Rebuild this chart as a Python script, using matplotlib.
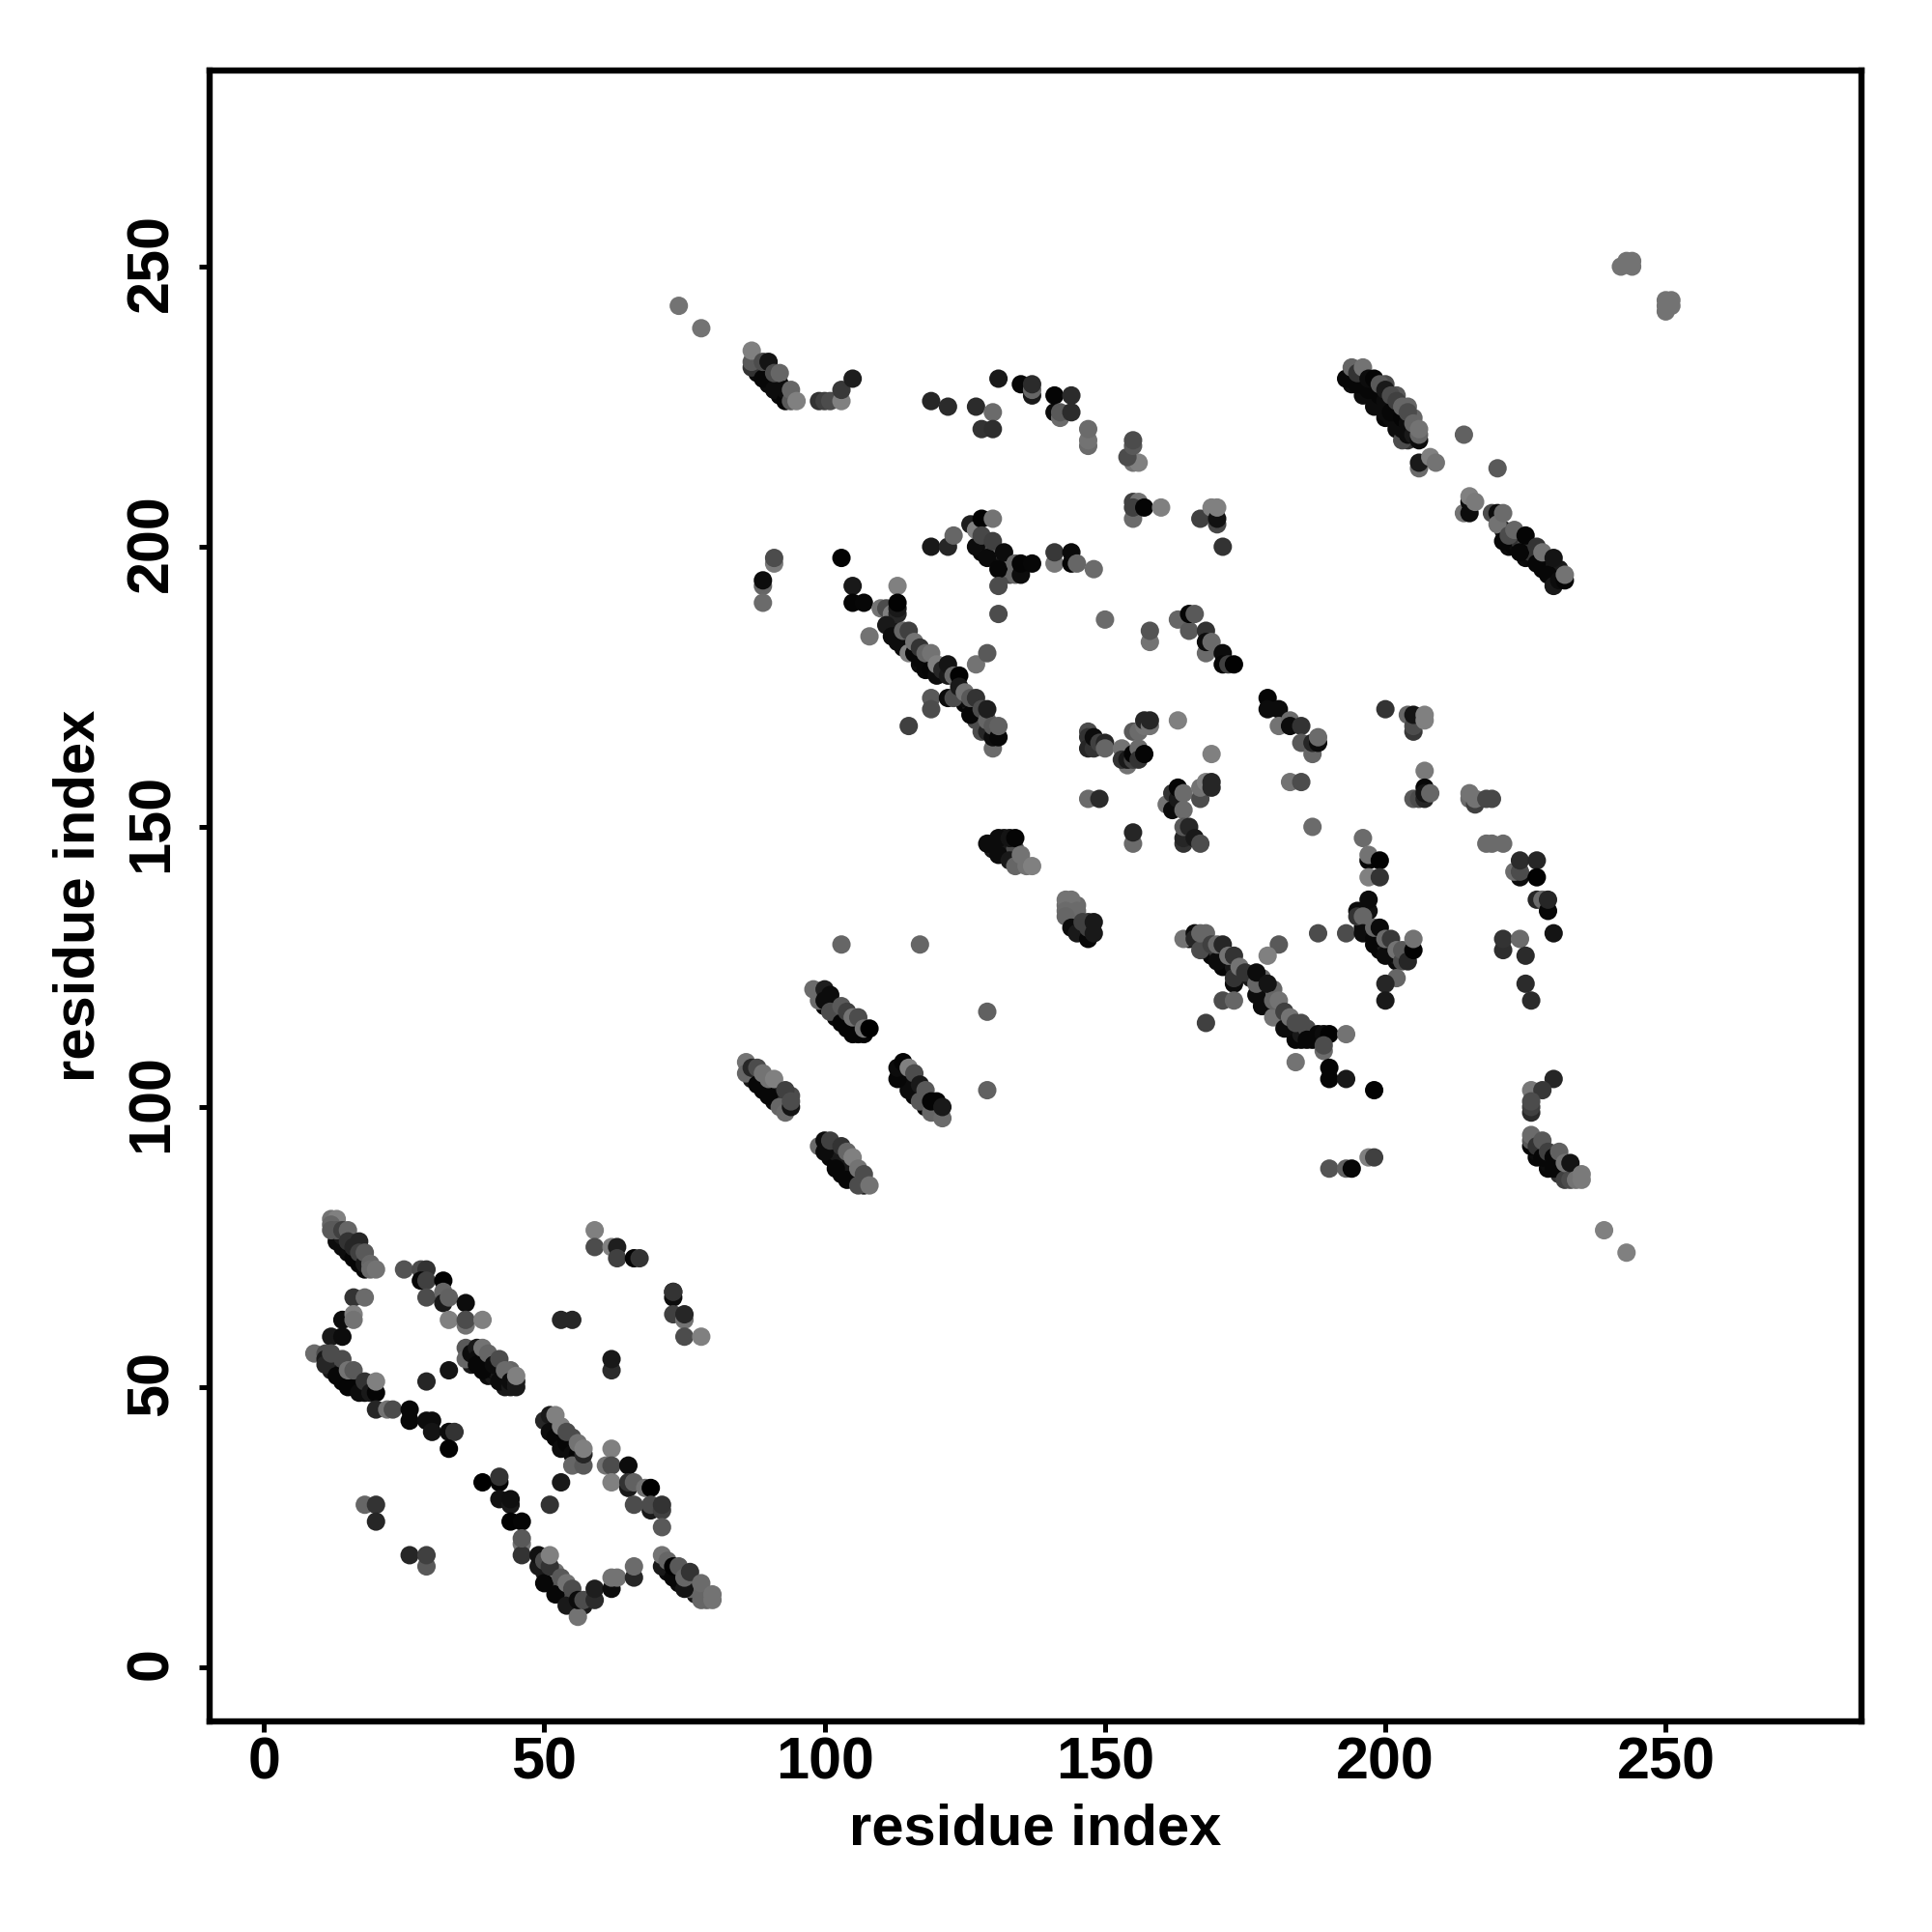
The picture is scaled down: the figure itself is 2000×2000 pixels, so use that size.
import matplotlib
matplotlib.use("Agg")
import matplotlib.pyplot as plt
from matplotlib.transforms import ScaledTranslation

# (residue i, residue j, score), grouped by region of the map
# contacts hidden under the thick bands, these get drawn first
band_lower = [(13,77,.1),(13,76,.05),(15,75,.05),(15,74,.05),(16,74,.05),(17,72,.03),(17,73,.1),(18,73,.2),
    (12,55,.1),(12,53,.1),(13,53,.05),(13,55,.3),(14,51,.03),(14,53,.1),(15,51,.05),(16,50,.03),(16,51,.05),(17,51,.1),(17,50,.05),(18,49,.05),(18,50,.1),(19,50,.1),
    (37,55,.05),(37,54,.1),(39,55,.1),(40,54,.05),(40,52,.05),(41,52,.1),(41,53,.05),(43,51,.03),(43,50,.1),(42,52,.1),(43,52,.1),(44,53,.4),
    (52,43,.05),(53,41,.05),(54,41,.05),(55,39,.05),(55,41,.3),(56,39,.05),(56,37,.1),
    (50,17,.1),(51,16,.05),(51,17,.1),(52,15,.05),(52,16,.3),(52,17,.45),(53,14,.05),(53,13,.1),(54,13,.05),(55,11,.1),(55,12,.05),(55,13,.3),(56,11,.05),(57,11,.1),(53,15,.3),
    (72,17,.05),(74,16,.05),(74,15,.05),(75,15,.05),(76,15,.1),(77,13,.1),(77,15,.3),(78,13,.2),(76,14,.4),(77,14,.4)]
band_middle = [(99,120,.05),(100,118,.03),(101,118,.03),(102,116,.03),(102,118,.1),(103,116,.05),(104,114,.02),(104,116,.1),(105,114,.03),(106,113,.02),(106,114,.03),
    (87,105,.1),(87,106,.1),(88,105,.03),(89,103,.03),(89,104,.05),(90,103,.05),(91,101,.05),(91,103,.1),(92,102,.1),(92,101,.05),(93,100,.05),(93,101,.1),(94,102,.3),
    (114,105,.03),(114,106,.05),(115,105,.05),(116,102,.03),(116,104,.05),(117,103,.1),(118,100,.03),(118,101,.05),(119,100,.05),(120,99,.3),(120,100,.03),
    (100,93,.1),(101,91,.03),(101,92,.05),(102,91,.03),(102,92,.1),(103,88,.03),(103,90,.03),(103,91,.1),(104,90,.1),(105,87,.03),(105,89,.1),(106,88,.1),(107,86,.1),(107,87,.2),
    (88,231,.05),(88,232,.1),(89,231,.3),(90,229,.05),(90,231,.1),(91,230,.3),(92,227,.03),(92,229,.05),(93,227,.03),
    (113,185,.1),(113,183,.05),(115,183,.1),(116,182,.3),(117,179,.05),(118,180,.1),(119,179,.05),(120,178,.05),(125,172,.03),(126,172,.1),(127,170,.05),(127,171,.1),(128,169,.03),(129,168,.1),(130,167,.1),(127,169,.3),(125,173,.05),
    (128,199,.03),(128,200,.05),(129,199,.1),(129,200,.3),(130,198,.03),(130,199,.3),(131,198,.1),(131,199,.4),(132,197,.1),(132,196,.03),(133,195,.3),(133,196,.4)]
band_upper = [(196,227,.05),(198,225,.05),(200,223,.03),(202,221,.05),(204,219,.2),(203,219,.3),(194,229,.05),(196,228,.05),(196,230,.1),(198,228,.05),(198,226,.05),(199,225,.05),(200,224,.05),(201,223,.05),(202,222,.05),(202,224,.1),(203,221,.05),(204,220,.05),
    (200,229,.3),(202,227,.35),(204,225,.4),(205,223,.4),
    (221,203,.1),(222,200,.05),(223,200,.03),(223,201,.05),(224,201,.2),(225,198,.05),(225,200,.3),(226,198,.04),(226,199,.2),(227,199,.2),(228,196,.03),(228,198,.1),(229,197,.1),(230,195,.05),(231,196,.1)]
band_right = [(165,130,.05),(167,129,.05),(168,128,.05),(168,129,.05),(169,127,.03),(170,128,.2),(171,125,.03),(171,127,.1),(172,126,.1),(172,125,.03),(173,125,.1),(176,123,.1),
    (178,120,.05),(178,121,.1),(179,119,.05),(179,120,.05),(180,118,.02),(181,116,.03),(181,117,.05),(182,115,.05),(183,114,.02),(184,113,.03),(184,112,.03),(185,112,.03),(185,113,.1),(186,114,.3),(187,112,.03),(178,123,.4),(179,121,.4),(180,121,.4),
    (196,133,.05),(196,132,.05),(197,132,.05),(197,131,.05),(198,129,.03),(199,130,.1),(199,128,.03),(200,129,.1),(201,128,.03),(201,127,.03),(202,126,.05),(202,127,.1),(203,127,.3),(204,127,.3),
    (130,147,.1),(132,146,.05),(132,148,.1),(132,145,.05),(133,146,.1),(134,146,.3),
    (144,133,.1),(144,134,.3),(145,133,.05),(145,134,.3),(146,132,.05),(146,131,.03),(147,131,.03),(147,133,.2),(144,135,.4),(143,136,.42),(144,136,.45),(145,136,.42),
    (227,91,.03),(227,92,.05),(229,89,.03),(229,90,.05),(231,90,.05),(231,88,.2),(232,89,.2),(233,88,.3),(234,88,.45)]

low_left_a = [(12,80,.45),(13,80,.5),(12,79,.4),(12,78,.35),(14,75,.05),(16,73,.02),(18,71,.03),(14,77,.1),(13,78,.35),(14,78,.25),(15,78,.4),(15,76,.2),(16,75,.15),(17,76,.15),(17,74,.25),(18,72,.1),(18,74,.35),(19,72,.4),(19,71,.42),(20,71,.45),
    (25,71,.33),(28,71,.3),(29,71,.2),(28,69,.03),(29,69,.25),(32,69,.01),(29,66,.3),(32,67,.4),(32,65,.1),(33,66,.38),(36,65,.05),(33,62,.5),(36,61,.45),(36,62,.3),(39,62,.5),
    (16,66,.2),(18,66,.42),(14,62,.05),(16,63,.5),(16,62,.45),(12,59,.1),(14,59,.05)]
low_left_b = [(9,56,.42),(11,56,.3),(11,55,.1),(11,54,.15),(12,56,.3),(13,52,.03),(14,55,.3),(15,50,.02),(15,53,.45),(16,53,.35),(17,49,.05),(18,51,.2),(19,49,.1),(20,49,.02),(20,51,.5),
    (20,46,.15),(22,46,.45),(23,46,.3),(26,46,.03),(26,44,.03),(29,44,.05),(30,44,.05),(30,42,.08),(33,42,.05),(34,42,.2),(33,39,.01),(29,51,.15),(33,53,.08),
    (36,57,.35),(36,55,.4),(37,56,.05),(38,57,.1),(38,55,.05),(38,54,.03),(39,57,.45),(39,53,.03),(40,56,.4),(41,54,.05),(42,51,.05),(42,55,.3),(43,53,.42),(44,50,.1),(44,51,.05),(45,50,.1),(45,51,.1),(45,52,.5)]
low_left_c = [(59,78,.5),(59,75,.3),(62,75,.5),(63,75,.12),(63,73,.25),(66,73,.02),(67,73,.2),(73,67,.05),(73,66,.05),(73,67,.2),(73,63,.25),(75,62,.45),(75,63,.15),(75,59,.3),(78,59,.5),
    (53,62,.15),(55,62,.15),(62,53,.17),(62,55,.1),
    (50,44,.15),(51,45,.1),(51,42,.05),(52,41,.03),(52,45,.5),(53,39,.05),(53,43,.5),(54,40,.03),(54,42,.3),(55,38,.05),(56,38,.02),(55,36,.4),(57,36,.35),(56,40,.45),(57,38,.15),(57,39,.5),
    (62,39,.5),(61,36,.45),(62,36,.3),(65,36,.05),(62,33,.5),(65,32,.1),(65,33,.2),(66,33,.38),(68,32,.45),(69,32,.0),(69,28,.1),(66,29,.3),(69,29,.3),(71,28,.25),(71,29,.2),(71,25,.35),(53,33,.1),(51,29,.2)]
low_left_d = [(39,33,.0),(42,33,.02),(42,34,.2),(42,30,.07),(44,29,.1),(44,30,.06),(44,26,.01),(46,26,.02),(46,22,.45),(46,20,.2),(46,23,.35),(18,29,.4),(20,29,.2),(20,26,.15),(26,20,.15),(29,18,.35),(29,20,.25),
    (49,18,.1),(49,20,.07),(50,15,.03),(50,19,.3),(51,18,.2),(51,20,.5),(52,13,.03),(53,16,.35),(54,11,.1),(54,15,.45),(55,14,.3),(56,9,.45),(56,12,.05),(57,12,.3),
    (59,12,.17),(59,14,.12),(62,14,.05),(62,16,.45),(63,16,.45),(66,16,.15),(66,18,.42),
    (71,18,.1),(71,20,.45),(72,19,.4),(73,16,.03),(73,18,.01),(74,18,.35),(75,14,.08),(75,16,.4),(76,17,.2),(78,12,.4),(78,15,.42),(79,12,.4),(80,12,.45),(80,13,.45)]
middle_streaks = [(103,129,.4),(117,129,.4),(129,117,.38),(129,103,.38),
    (98,121,.42),(99,119,.42),(100,121,.12),(100,119,.05),(101,120,.05),(101,117,.3),(103,115,.02),(103,118,.35),(104,117,.25),(105,113,.02),(105,116,.45),(106,116,.3),(107,113,.02),(107,114,.45),(108,114,.0),
    (86,108,.45),(86,106,.4),(87,107,.15),(88,104,.03),(88,107,.3),(89,106,.45),(90,102,.03),(90,105,.45),(91,105,.5),(92,100,.4),(93,99,.42),(94,100,.08),(93,103,.25),(94,101,.3),
    (115,103,.05),(113,105,.03),(113,107,.05),(114,108,.02),(115,107,.5),(116,106,.3),(117,104,.1),(117,101,.35),(118,103,.35),(119,99,.4),(119,101,.02),(120,101,.02),(121,98,.42),(121,100,.1),
    (99,93,.42),(100,92,.05),(100,94,.05),(101,94,.25),(102,89,.03),(103,93,.2),(104,87,.03),(104,92,.4),(105,91,.5),(106,86,.3),(106,89,.45),(107,88,.3),(108,86,.45)]
top_left = [(87,232,.2),(87,233,.35),(87,235,.5),(89,230,.03),(89,233,.3),(90,233,.08),(91,228,.05),(91,231,.3),(92,231,.4),(93,226,.02),(93,228,.05),(94,226,.35),(94,228,.4),(95,226,.5),
    (99,226,.2),(100,226,.25),(101,226,.3),(103,226,.5),(103,228,.22),(105,230,.12),(119,226,.15),(122,225,.17),(127,225,.17),(130,224,.42),(128,221,.2),(130,221,.18),
    (131,230,.1),(135,229,.03),(137,227,.1),(137,228,.4),(137,229,.17),(141,224,.05),(141,227,.02),(142,223,.42),(142,224,.35),(144,227,.17),(144,224,.17),(147,218,.42),(147,219,.45),(147,221,.42),
    (91,197,.48),(91,198,.3),(89,193,.4),(89,194,.05),(89,190,.42),(74,243,.45),(78,239,.45)]
upper_centre = [(103,198,.01),(105,193,.1),(105,190,.02),(107,190,.03),(110,189,.45),(111,189,.3),(113,193,.5),(112,188,.5),(113,188,.15),(113,189,.1),(113,190,.01),
    (108,184,.45),(111,186,.1),(112,184,.05),(114,182,.05),(114,185,.4),(115,181,.5),(115,185,.25),(116,181,.03),(116,183,.45),(117,180,.03),(117,182,.2),(118,178,.03),(118,181,.4),(119,178,.02),(119,181,.45),(120,177,.05),(120,179,.5),(121,178,.15),(122,177,.1),(122,179,.08),(123,177,.4),(124,177,.01),
    (119,173,.35),(119,171,.3),(115,168,.25),(122,173,.05),(123,173,.3),(124,175,.1),(125,174,.45),(126,170,.03),(126,173,.35),(127,173,.2),(128,167,.3),(128,171,.3),(129,167,.15),(129,169,.4),(129,171,.12),(130,164,.42),(130,166,.05),(130,168,.35),(131,166,.03),(131,168,.38),(127,179,.45),(129,181,.35),
    (119,200,.1),(122,200,.15),(123,202,.4),(126,204,.12),(127,200,.05),(127,203,.5),(128,205,.01),(130,205,.45),(128,202,.28),(129,198,.04),(130,201,.25),(131,196,.03),(132,199,.05),(134,195,.4),(134,197,.4),(135,195,.05),(135,197,.02),(137,197,.03),(131,193,.3),(131,188,.3),
    (141,197,.47),(141,199,.22),(144,197,.02),(144,199,.04),(145,197,.4),(148,196,.42),(150,187,.42),(158,183,.45),(158,185,.33)]
upper_right = [(155,215,.45),(156,215,.5),(154,216,.3),(155,218,.35),(155,219,.3),(155,205,.42),(155,208,.25),(156,208,.45),(155,207,.25),(157,207,.02),(160,207,.5),
    (167,205,.25),(170,204,.28),(169,207,.5),(170,205,.07),(170,207,.5),(171,200,.2),
    (163,187,.4),(165,185,.35),(165,188,.02),(166,188,.35),(168,185,.2),(168,181,.42),(168,183,.05),(169,183,.42),(171,181,.05),(171,179,.03),(172,179,.25),(173,179,.01),
    (179,173,.02),(179,171,.05),(181,171,.05),(181,168,.45),(183,169,.42),(183,168,.05),(185,168,.2),(185,165,.35),(187,163,.4),(187,165,.15),(188,165,.05),(188,166,.42),
    (200,171,.2),(204,170,.4),(205,167,.22),(205,168,.3),(205,170,.08),(207,169,.5),(207,170,.5),
    (214,220,.38),(220,214,.35),(193,230,.03),(194,232,.4),(195,229,.03),(195,231,.2),(196,232,.45),(197,228,.03),(197,230,.05),(198,230,.02),(199,227,.03),(199,229,.35),(200,226,.05),(200,228,.1),(201,224,.03),(201,227,.3),(202,226,.25),(203,223,.02),(203,225,.4),(204,222,.05),(204,224,.3),(205,220,.1),(205,222,.4),(206,219,.05),(206,220,.4),(206,221,.45),
    (206,214,.42),(206,215,.1),(208,216,.5),(209,215,.45),(214,206,.45),(215,206,.05),(215,208,.05),(215,209,.5),(216,208,.48),
    (219,206,.3),(220,206,.05),(220,204,.45),(221,206,.42),(221,201,.03),(222,202,.3),(223,203,.4),(224,199,.03),(225,202,.02),(227,197,.03),(227,200,.2),(228,199,.45),(229,195,.03),(230,193,.1),(230,198,.08),(231,194,.05),(232,194,.03),(232,195,.45),
    (242,250,.45),(243,251,.45),(244,250,.45),(244,251,.45),(250,242,.45),(250,243,.45),(251,243,.45),(250,244,.45),(251,244,.45)]
centre_a = [(147,167,.3),(147,166,.2),(147,164,.15),(148,164,.2),(148,166,.05),(149,165,.25),(150,165,.15),(150,164,.4),
    (153,164,.45),(155,167,.35),(156,167,.42),(157,168,.45),(157,169,.15),(158,168,.45),(158,169,.15),(163,169,.5),
    (154,161,.45),(153,162,.2),(154,162,.1),(155,162,.25),(155,163,.02),(156,164,.42),(156,162,.2),(157,163,.02),(169,163,.5),(147,155,.42),(149,155,.17),(155,147,.42),(155,149,.15),
    (161,154,.45),(162,153,.05),(162,156,.2),(163,155,.1),(163,157,.02),(164,153,.42),(164,156,.42),(167,155,.3),(167,157,.45),(168,158,.5),(169,157,.15),(169,158,.15),
    (164,147,.2),(164,148,.15),(164,150,.35),(165,150,.15),(166,148,.1),(167,147,.3),
    (183,158,.45),(185,158,.3),(187,150,.42),(196,148,.42),(197,144,.03),(197,145,.45),(199,144,.01),(197,141,.5),(199,141,.2),
    (207,160,.48),(205,155,.35),(206,155,.3),(207,155,.15),(207,157,.03),(207,156,.08),(208,156,.4)]
centre_b = [(130,146,.1),(129,147,.05),(131,148,.05),(131,145,.05),(133,148,.08),(134,148,.02),(133,144,.1),(134,143,.4),(135,145,.45),(136,143,.45),(137,143,.5),
    (143,137,.45),(144,137,.45),(143,135,.42),(145,135,.42),(143,134,.4),(144,132,.05),(145,131,.1),(146,133,.25),(147,130,.03),(147,132,.25),(148,131,.1),(148,133,.1),
    (164,130,.45),(166,131,.05),(166,130,.15),(167,128,.3),(167,131,.4),(168,131,.4),(169,129,.25),(170,126,.05),(170,129,.42),(171,129,.15),(172,127,.45),(173,122,.05),(173,123,.2),(173,127,.2),(174,125,.45),(175,124,.2),(177,120,.05),(177,122,.4),(177,124,.05),(179,122,.08),
    (181,129,.35),(179,127,.5),(171,119,.3),(173,119,.4),(168,115,.25),(178,118,.05),(180,116,.45),(180,119,.4),(181,119,.45),(182,114,.05),(182,117,.25),(183,116,.45),(184,115,.3),(185,115,.3),(186,112,.03),(188,113,.03),(189,113,.05),(190,113,.01),(193,113,.45),
    (189,110,.42),(189,111,.3),(184,108,.45),(190,107,.02),(190,105,.02),(193,105,.1),(198,103,.01),(190,89,.33),(193,89,.38),(194,89,.03),(197,91,.5),(198,91,.25)]
right_side = [(197,135,.07),(197,137,.05),(195,135,.05),(195,134,.2),(196,134,.4),(193,131,.3),(188,131,.3),(196,131,.05),(198,130,.03),(198,132,.4),(199,132,.04),(200,127,.05),(200,130,.42),(201,130,.22),(202,128,.45),(203,126,.3),(203,128,.35),(204,126,.15),(205,128,.01),(205,130,.45),(202,123,.4),(200,122,.15),(200,119,.1),
    (215,155,.42),(216,154,.25),(215,156,.45),(216,155,.45),(218,155,.28),(219,155,.28),(218,147,.42),(219,147,.42),(221,147,.42),
    (224,141,.05),(223,142,.42),(224,142,.3),(224,144,.17),(227,144,.15),(227,141,.01),(227,137,.15),(228,137,.42),(229,135,.03),(229,137,.15),(230,131,.08),
    (221,128,.18),(221,130,.2),(224,130,.42),(225,127,.17),(225,122,.17),(226,119,.17),
    (230,105,.15),(226,103,.47),(228,103,.22),(226,99,.17),(226,100,.25),(226,101,.3),
    (226,93,.02),(226,94,.35),(226,95,.42),(227,93,.2),(228,91,.03),(228,94,.35),(229,92,.25),(230,89,.03),(230,91,.03),(231,92,.38),(232,87,.25),(232,90,.45),(233,87,.3),(233,90,.08),(234,87,.45),(235,87,.48),(235,88,.48),
    (239,78,.5),(243,74,.5)]

regions = [band_lower, band_middle, band_upper, band_right,
           low_left_a, low_left_b, low_left_c, low_left_d, middle_streaks, top_left,
           upper_centre, upper_right, centre_a, centre_b, right_side]

plt.rcParams['font.family'] = ['Liberation Sans', 'DejaVu Sans']
plt.rcParams['font.weight'] = 'bold'

fig = plt.figure(figsize=(10, 10), dpi=200)
ax = fig.add_axes([217/2000, 1 - 1782/2000, (1927 - 217)/2000, (1782 - 73)/2000])

for region in regions:
    x, y, score = zip(*region)
    ax.scatter(x, y, c=score, cmap='gray', vmin=0, vmax=1, s=47, linewidths=0, zorder=3)

ax.set_xlim(-9.67, 284.9)
ax.set_ylim(-9.67, 285)
ax.set_xticks(range(0, 251, 50))
ax.set_yticks(range(0, 251, 50))
ax.tick_params(length=4, width=1.8, labelsize=22, pad=1.5)
ax.tick_params(axis='y', pad=7)
shift = ScaledTranslation(0, 0.019, fig.dpi_scale_trans)
for label in ax.get_yticklabels():
    label.set_rotation(90)
    label.set_va('center')
    label.set_transform(label.get_transform() + shift)
for side in ax.spines.values():
    side.set_linewidth(2.3)
ax.set_xlabel('residue index', fontsize=21.5, fontweight='bold', labelpad=4.5)
ax.set_ylabel('residue index', fontsize=21.5, fontweight='bold', labelpad=7)

fig.savefig('out.png', dpi=200)
